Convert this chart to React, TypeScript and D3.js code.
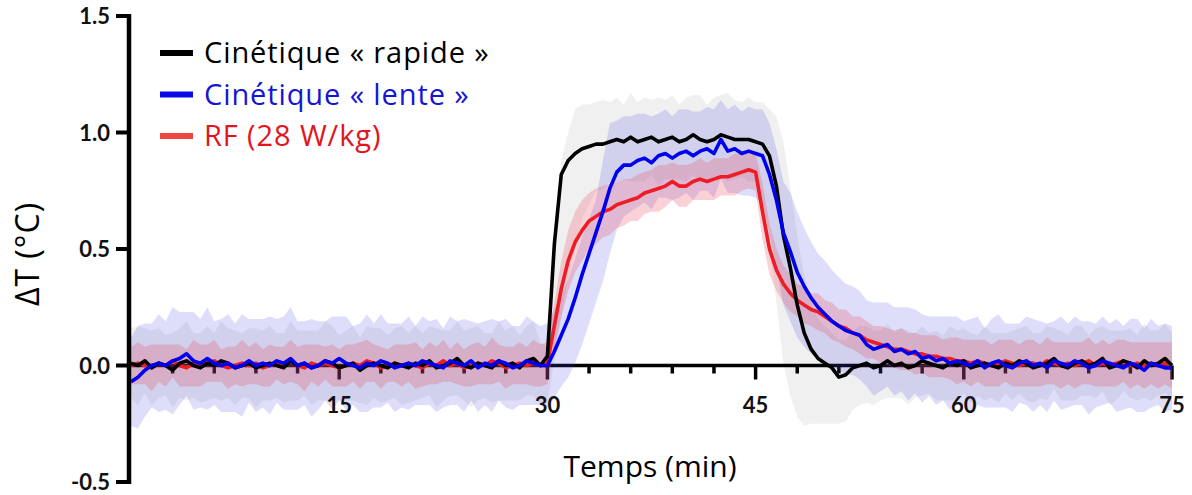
import React from "react";
import * as d3 from "d3";

// time step 0.5 min, 0..75
const timeStep = 0.5;
const nPoints = 151;

const blackMean = [
  0.01, 0.00, 0.02, -0.01, 0.01, 0.00, -0.02, 0.01, 0.02, 0.00,
  -0.01, 0.01, 0.00, 0.02, 0.01, -0.01, 0.00, 0.01, -0.01, 0.00,
  0.01, 0.00, -0.01, 0.02, 0.00, 0.01, -0.01, 0.00, 0.02, 0.01,
  -0.01, 0.00, 0.01, -0.02, 0.00, 0.01, 0.00, -0.01, 0.01, 0.00,
  -0.01, 0.01, 0.00, 0.02, -0.01, 0.00, 0.01, 0.03, 0.00, -0.01,
  0.01, 0.00, -0.01, 0.02, 0.00, 0.01, -0.01, 0.02, 0.03, 0.00,
  0.04, 0.52, 0.82, 0.88, 0.91, 0.93, 0.94, 0.95, 0.95, 0.96,
  0.97, 0.96, 0.98, 0.96, 0.97, 0.98, 0.96, 0.97, 0.98, 0.96,
  0.97, 0.99, 0.97, 0.96, 0.97, 0.99, 0.98, 0.97, 0.97, 0.97,
  0.96, 0.95, 0.90, 0.77, 0.56, 0.42, 0.26, 0.14, 0.07, 0.03,
  0.01, -0.01, -0.05, -0.04, -0.01, 0.00, 0.01, -0.01, 0.00, 0.02,
  0.00, 0.01, -0.01, 0.00, 0.02, 0.01, 0.00, -0.01, 0.01, 0.00,
  0.02, -0.01, 0.00, 0.01, 0.00, -0.01, 0.01, 0.00, 0.02, 0.01,
  -0.01, 0.00, 0.01, 0.03, 0.00, -0.01, 0.01, 0.02, 0.00, 0.01,
  0.03, -0.01, 0.00, 0.02, 0.01, -0.01, 0.02, 0.00, 0.01, 0.03,
  0.00,
];

const blueMean = [
  -0.07, -0.05, -0.02, 0.00, 0.01, 0.00, 0.02, 0.03, 0.05, 0.02,
  0.01, 0.03, 0.01, 0.00, 0.01, -0.01, 0.00, 0.02, 0.00, 0.01,
  0.00, 0.02, 0.01, 0.03, 0.00, 0.01, -0.01, 0.00, 0.02, 0.01,
  0.03, 0.01, 0.00, -0.01, 0.01, 0.00, 0.02, 0.01, -0.01, 0.00,
  0.01, 0.00, 0.02, 0.01, 0.00, -0.01, 0.02, 0.01, 0.00, 0.02,
  -0.01, 0.01, 0.00, 0.02, 0.01, -0.01, 0.00, 0.02, 0.01, 0.00,
  0.00, 0.06, 0.13, 0.20, 0.29, 0.39, 0.48, 0.57, 0.66, 0.76,
  0.83, 0.86, 0.86, 0.88, 0.89, 0.87, 0.90, 0.91, 0.89, 0.91,
  0.92, 0.90, 0.92, 0.93, 0.91, 0.97, 0.92, 0.93, 0.91, 0.92,
  0.91, 0.90, 0.82, 0.71, 0.57, 0.49, 0.40, 0.34, 0.29, 0.25,
  0.22, 0.19, 0.17, 0.15, 0.14, 0.13, 0.09, 0.07, 0.08, 0.09,
  0.06, 0.07, 0.05, 0.06, 0.03, 0.04, 0.02, 0.03, 0.01, 0.02,
  0.01, 0.00, 0.02, -0.01, 0.01, 0.02, 0.00, -0.01, 0.01, 0.02,
  0.00, 0.01, -0.01, 0.02, 0.01, 0.00, 0.02, 0.01, -0.01, 0.00,
  0.02, 0.01, 0.00, -0.01, 0.01, 0.00, -0.02, 0.01, 0.00, -0.01,
  -0.01,
];

const redMean = [
  0.00, 0.01, 0.00, -0.01, 0.01, 0.00, 0.02, 0.00, -0.01, 0.01,
  0.00, 0.01, 0.02, 0.00, -0.01, 0.00, 0.01, 0.00, 0.01, -0.01,
  0.00, 0.01, 0.00, 0.02, 0.00, -0.01, 0.01, 0.00, 0.01, 0.00,
  -0.01, 0.00, 0.01, 0.00, 0.02, 0.01, -0.01, 0.00, 0.01, 0.00,
  0.01, 0.00, -0.01, 0.01, 0.00, 0.02, 0.00, 0.01, -0.01, 0.00,
  0.01, 0.00, 0.02, 0.01, -0.01, 0.00, 0.01, 0.00, 0.01, 0.00,
  0.01, 0.17, 0.33, 0.45, 0.53, 0.58, 0.62, 0.64, 0.66, 0.67,
  0.69, 0.70, 0.71, 0.72, 0.74, 0.75, 0.76, 0.77, 0.79, 0.77,
  0.77, 0.79, 0.80, 0.79, 0.80, 0.81, 0.81, 0.82, 0.83, 0.84,
  0.83, 0.66, 0.50, 0.41, 0.35, 0.31, 0.28, 0.26, 0.24, 0.23,
  0.21, 0.19, 0.17, 0.16, 0.14, 0.13, 0.11, 0.10, 0.09, 0.08,
  0.07, 0.07, 0.06, 0.05, 0.05, 0.04, 0.04, 0.03, 0.03, 0.02,
  0.02, 0.01, 0.02, 0.01, 0.00, 0.01, 0.02, 0.01, 0.00, 0.01,
  0.01, 0.00, 0.02, 0.01, 0.00, 0.01, 0.00, 0.01, 0.02, 0.00,
  0.01, 0.00, 0.01, 0.02, 0.00, 0.01, 0.00, 0.01, 0.00, 0.01,
  0.00,
];

// spread of the "rapide" series above / below the mean
const blackSdUp = [
  0.15, 0.17, 0.14, 0.16, 0.15, 0.13, 0.16, 0.15, 0.17, 0.14,
  0.15, 0.16, 0.14, 0.17, 0.15, 0.16, 0.14, 0.15, 0.17, 0.15,
  0.16, 0.14, 0.15, 0.17, 0.15, 0.14, 0.16, 0.15, 0.17, 0.16,
  0.14, 0.15, 0.16, 0.14, 0.17, 0.15, 0.16, 0.14, 0.15, 0.17,
  0.15, 0.16, 0.14, 0.15, 0.17, 0.15, 0.14, 0.16, 0.15, 0.17,
  0.16, 0.14, 0.15, 0.17, 0.15, 0.16, 0.14, 0.15, 0.16, 0.10,
  0.04, 0.04, 0.06, 0.12, 0.19, 0.19, 0.18, 0.18, 0.19, 0.17,
  0.18, 0.16, 0.19, 0.17, 0.18, 0.16, 0.19, 0.17, 0.18, 0.16,
  0.18, 0.17, 0.19, 0.16, 0.18, 0.17, 0.19, 0.17, 0.16, 0.18,
  0.17, 0.18, 0.20, 0.30, 0.40, 0.35, 0.30, 0.25, 0.20, 0.17,
  0.16, 0.15, 0.16, 0.15, 0.16, 0.17, 0.16, 0.16, 0.15, 0.16,
  0.14, 0.15, 0.16, 0.14, 0.15, 0.13, 0.15, 0.14, 0.16, 0.15,
  0.14, 0.15, 0.13, 0.16, 0.14, 0.15, 0.13, 0.15, 0.14, 0.16,
  0.15, 0.14, 0.16, 0.13, 0.15, 0.14, 0.16, 0.15, 0.13, 0.15,
  0.14, 0.16, 0.15, 0.13, 0.15, 0.14, 0.16, 0.15, 0.14, 0.15,
  0.14,
];

const blackSdDown = [
  0.15, 0.17, 0.14, 0.16, 0.15, 0.13, 0.16, 0.15, 0.17, 0.14,
  0.15, 0.16, 0.14, 0.17, 0.15, 0.16, 0.14, 0.15, 0.17, 0.15,
  0.16, 0.14, 0.15, 0.17, 0.15, 0.14, 0.16, 0.15, 0.17, 0.16,
  0.14, 0.15, 0.16, 0.14, 0.17, 0.15, 0.16, 0.14, 0.15, 0.17,
  0.15, 0.16, 0.14, 0.15, 0.17, 0.15, 0.14, 0.16, 0.15, 0.17,
  0.16, 0.14, 0.15, 0.17, 0.15, 0.16, 0.14, 0.15, 0.16, 0.17,
  0.20, 0.50, 0.62, 0.50, 0.40, 0.30, 0.25, 0.20, 0.19, 0.17,
  0.18, 0.16, 0.19, 0.17, 0.18, 0.16, 0.19, 0.17, 0.18, 0.16,
  0.18, 0.17, 0.19, 0.16, 0.18, 0.17, 0.19, 0.17, 0.16, 0.18,
  0.17, 0.25, 0.40, 0.50, 0.55, 0.55, 0.48, 0.40, 0.32, 0.28,
  0.26, 0.24, 0.20, 0.20, 0.18, 0.17, 0.17, 0.16, 0.15, 0.16,
  0.14, 0.15, 0.16, 0.14, 0.15, 0.13, 0.15, 0.14, 0.16, 0.15,
  0.14, 0.15, 0.13, 0.16, 0.14, 0.15, 0.13, 0.15, 0.14, 0.16,
  0.15, 0.14, 0.16, 0.13, 0.15, 0.14, 0.16, 0.15, 0.13, 0.15,
  0.14, 0.16, 0.15, 0.13, 0.15, 0.14, 0.16, 0.15, 0.14, 0.15,
  0.14,
];

const blueSdUp = [
  0.19, 0.22, 0.20, 0.18, 0.21, 0.19, 0.23, 0.20, 0.18, 0.21,
  0.19, 0.22, 0.18, 0.20, 0.21, 0.19, 0.22, 0.18, 0.20, 0.19,
  0.21, 0.18, 0.20, 0.22, 0.19, 0.18, 0.21, 0.19, 0.17, 0.20,
  0.18, 0.20, 0.17, 0.19, 0.21, 0.18, 0.20, 0.17, 0.19, 0.18,
  0.20, 0.17, 0.19, 0.18, 0.20, 0.17, 0.19, 0.18, 0.20, 0.17,
  0.19, 0.18, 0.20, 0.17, 0.19, 0.18, 0.17, 0.19, 0.18, 0.17,
  0.18, 0.18, 0.17, 0.17, 0.17, 0.16, 0.15, 0.14, 0.22, 0.28,
  0.22, 0.21, 0.21, 0.20, 0.19, 0.20, 0.18, 0.19, 0.18, 0.19,
  0.18, 0.19, 0.17, 0.18, 0.19, 0.17, 0.18, 0.19, 0.18, 0.19,
  0.19, 0.20, 0.22, 0.22, 0.22, 0.25, 0.26, 0.25, 0.24, 0.23,
  0.23, 0.22, 0.21, 0.20, 0.20, 0.19, 0.19, 0.20, 0.19, 0.18,
  0.19, 0.18, 0.20, 0.18, 0.19, 0.17, 0.19, 0.18, 0.20, 0.19,
  0.18, 0.20, 0.19, 0.17, 0.19, 0.20, 0.18, 0.19, 0.17, 0.19,
  0.20, 0.18, 0.19, 0.17, 0.20, 0.18, 0.19, 0.18, 0.20, 0.18,
  0.19, 0.17, 0.20, 0.18, 0.19, 0.20, 0.18, 0.19, 0.17, 0.19,
  0.18,
];

const blueSdDown = [
  0.19, 0.22, 0.20, 0.18, 0.21, 0.19, 0.23, 0.20, 0.18, 0.21,
  0.19, 0.22, 0.18, 0.20, 0.21, 0.19, 0.22, 0.18, 0.20, 0.19,
  0.21, 0.18, 0.20, 0.22, 0.19, 0.18, 0.21, 0.19, 0.17, 0.20,
  0.18, 0.20, 0.17, 0.19, 0.21, 0.18, 0.20, 0.17, 0.19, 0.18,
  0.20, 0.17, 0.19, 0.18, 0.20, 0.17, 0.19, 0.18, 0.20, 0.17,
  0.19, 0.18, 0.20, 0.17, 0.19, 0.18, 0.17, 0.19, 0.18, 0.17,
  0.18, 0.20, 0.22, 0.25, 0.28, 0.30, 0.30, 0.30, 0.30, 0.28,
  0.25, 0.22, 0.20, 0.20, 0.19, 0.20, 0.18, 0.19, 0.18, 0.19,
  0.18, 0.19, 0.17, 0.18, 0.19, 0.17, 0.18, 0.19, 0.18, 0.19,
  0.19, 0.21, 0.25, 0.29, 0.31, 0.30, 0.28, 0.26, 0.24, 0.22,
  0.21, 0.20, 0.19, 0.19, 0.18, 0.19, 0.18, 0.20, 0.19, 0.18,
  0.19, 0.18, 0.20, 0.18, 0.19, 0.17, 0.19, 0.18, 0.20, 0.19,
  0.18, 0.20, 0.19, 0.17, 0.19, 0.20, 0.18, 0.19, 0.17, 0.19,
  0.20, 0.18, 0.19, 0.17, 0.20, 0.18, 0.19, 0.18, 0.20, 0.18,
  0.19, 0.17, 0.20, 0.18, 0.19, 0.20, 0.18, 0.19, 0.17, 0.19,
  0.18,
];

const redSd = [
  0.08, 0.09, 0.08, 0.10, 0.08, 0.09, 0.07, 0.09, 0.08, 0.10,
  0.09, 0.08, 0.09, 0.07, 0.09, 0.08, 0.10, 0.08, 0.09, 0.08,
  0.09, 0.07, 0.08, 0.09, 0.08, 0.10, 0.08, 0.09, 0.07, 0.09,
  0.08, 0.09, 0.08, 0.10, 0.09, 0.08, 0.09, 0.07, 0.08, 0.09,
  0.08, 0.10, 0.08, 0.09, 0.08, 0.09, 0.07, 0.09, 0.08, 0.09,
  0.09, 0.08, 0.10, 0.08, 0.09, 0.08, 0.09, 0.08, 0.10, 0.09,
  0.09, 0.10, 0.12, 0.13, 0.13, 0.13, 0.12, 0.12, 0.11, 0.11,
  0.10, 0.10, 0.09, 0.10, 0.09, 0.09, 0.10, 0.09, 0.08, 0.09,
  0.09, 0.08, 0.09, 0.08, 0.09, 0.08, 0.08, 0.09, 0.08, 0.08,
  0.08, 0.12, 0.11, 0.09, 0.08, 0.08, 0.07, 0.08, 0.07, 0.08,
  0.07, 0.08, 0.07, 0.08, 0.07, 0.08, 0.08, 0.07, 0.08, 0.08,
  0.08, 0.09, 0.08, 0.09, 0.08, 0.09, 0.09, 0.08, 0.09, 0.10,
  0.09, 0.10, 0.09, 0.10, 0.09, 0.10, 0.09, 0.10, 0.09, 0.10,
  0.10, 0.09, 0.10, 0.09, 0.10, 0.09, 0.10, 0.09, 0.10, 0.09,
  0.10, 0.09, 0.10, 0.09, 0.10, 0.09, 0.10, 0.09, 0.10, 0.09,
  0.10,
];

const yTicks = [-0.5, 0, 0.5, 1.0, 1.5];
const yTickLabels = ["-0.5", "0.0", "0.5", "1.0", "1.5"];
const xMajorTicks = [15, 30, 45, 60, 75];
const xMinorTicks = [3, 6, 9, 12, 18, 21, 24, 27, 33, 36, 39, 42, 48, 51, 54, 57, 63, 66, 69, 72];

const legendLabels = ["Cinétique « rapide »", "Cinétique « lente »", "RF (28 W/kg)"];
const legendColors = ["#000000", "#0a0ae6", "#ef4444"];
const legendTextColors = ["#000000", "#1515d5", "#e3151c"];

const FONT = "'Open Sans', Lato, 'DejaVu Sans', sans-serif";
const TICKFONT = "Lato, 'Open Sans', 'DejaVu Sans', sans-serif";

export default function App() {
  const W = 1192;
  const H = 495;
  const x = d3.scaleLinear().domain([0, 75]).range([131, 1172]);
  const y = d3.scaleLinear().domain([-0.5, 1.5]).range([482, 16]);
  const times = d3.range(nPoints).map((i) => i * timeStep);

  type P = { t: number; m: number; up: number; dn: number };
  const mk = (mean: number[], up: number[], dn: number[]): P[] =>
    times.map((t, i) => ({ t, m: mean[i], up: up[i], dn: dn[i] }));
  const black = mk(blackMean, blackSdUp, blackSdDown);
  const blue = mk(blueMean, blueSdUp, blueSdDown);
  const red = mk(redMean, redSd, redSd);

  const area = d3
    .area<P>()
    .x((d) => x(d.t))
    .y0((d) => y(d.m - d.dn))
    .y1((d) => y(d.m + d.up));
  const line = d3
    .line<P>()
    .x((d) => x(d.t))
    .y((d) => y(d.m));

  const axisX = 129;
  return (
    <svg
      width={W}
      height={H}
      style={{ position: "absolute", left: 0, top: 0, background: "#fff" }}
    >
      {/* x axis at y=0 (drawn behind data) */}
      <line x1={axisX} x2={x(75)} y1={y(0)} y2={y(0)} stroke="#000" strokeWidth={3.5} />
      {xMajorTicks.map((t) => (
        <line key={"M" + t} x1={x(t)} x2={x(t)} y1={y(0)} y2={y(0) + 14} stroke="#000" strokeWidth={3.5} />
      ))}
      {xMinorTicks.map((t) => (
        <line key={"m" + t} x1={x(t)} x2={x(t)} y1={y(0)} y2={y(0) + 8} stroke="#000" strokeWidth={3.5} />
      ))}

      {/* bands */}
      <path d={area(black) || ""} fill="#000" fillOpacity={0.06} />
      <path d={area(blue) || ""} fill="rgb(70,70,225)" fillOpacity={0.18} />
      <path d={area(red) || ""} fill="rgb(235,70,90)" fillOpacity={0.25} />

      {/* lines */}
      <path d={line(red) || ""} fill="none" stroke="#ee1c25" strokeWidth={3.6} strokeLinejoin="round" />
      <path d={line(black) || ""} fill="none" stroke="#000" strokeWidth={3.6} strokeLinejoin="round" />
      <path d={line(blue) || ""} fill="none" stroke="#0000ee" strokeWidth={3.6} strokeLinejoin="round" />

      {/* x tick labels */}
      {xMajorTicks.map((t) => (
        <text
          key={"xl" + t}
          x={x(t)}
          y={413}
          textAnchor="middle"
          fontFamily={TICKFONT}
          fontWeight={700}
          fontSize={22}
          fill="#111"
        >
          {t}
        </text>
      ))}

      {/* y axis */}
      <line x1={axisX} x2={axisX} y1={y(1.5) - 2} y2={y(-0.5) + 2} stroke="#000" strokeWidth={4.5} />
      {yTicks.map((v, i) => (
        <g key={"yt" + v}>
          <line x1={116} x2={axisX} y1={y(v)} y2={y(v)} stroke="#000" strokeWidth={4} />
          <text
            x={110}
            y={y(v) + 8}
            textAnchor="end"
            fontFamily={TICKFONT}
            fontWeight={700}
            fontSize={22}
            fill="#111"
          >
            {yTickLabels[i]}
          </text>
        </g>
      ))}

      {/* axis titles */}
      <text
        transform={`translate(39,254) rotate(-90)`}
        textAnchor="middle"
        fontFamily={FONT}
        fontSize={32}
        letterSpacing={1}
        fill="#000"
      >
        ΔT (°C)
      </text>
      <text x={650} y={477} textAnchor="middle" fontFamily={FONT} fontSize={30} fill="#000">
        Temps (min)
      </text>

      {/* legend */}
      {legendLabels.map((lab, i) => {
        const ly = 53 + i * 41.5;
        return (
          <g key={lab}>
            <line x1={160} x2={193} y1={ly} y2={ly} stroke={legendColors[i]} strokeWidth={6} />
            <text
              x={204}
              y={ly + 10}
              fontFamily={FONT}
              fontSize={29}
              letterSpacing={0.9}
              fill={legendTextColors[i]}
            >
              {lab}
            </text>
          </g>
        );
      })}
    </svg>
  );
}
